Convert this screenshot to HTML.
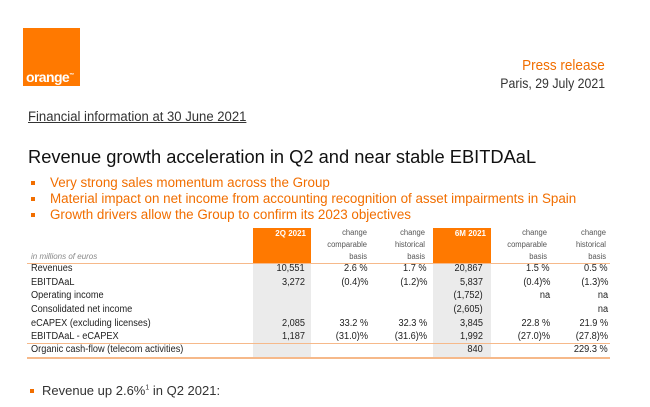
<!DOCTYPE html>
<html><head><meta charset="utf-8"><style>
body{margin:0;width:650px;height:407px;background:#fff;overflow:hidden;font-family:"Liberation Sans",sans-serif;position:relative}
.a{position:absolute;white-space:nowrap}
.o{color:#f16e00}
.b{position:absolute;width:4px;height:4px;background:#f16e00}
.r{position:absolute;font-size:10px;line-height:12px;color:#222;white-space:nowrap;transform:scaleX(0.92);transform-origin:right}
.l{transform-origin:left}
.h{position:absolute;font-size:8px;color:#555;text-align:right;line-height:12px;transform:scaleX(0.95);transform-origin:right}
</style></head><body>
<div class="a" style="left:23px;top:28px;width:57px;height:58px;background:#ff7900"></div>
<div class="a" style="left:26px;top:69px;font-size:14px;font-weight:bold;color:#fff;letter-spacing:-0.6px">orange<sup style="font-size:5px">™</sup></div>
<div class="a o" style="right:45px;top:57px;font-size:15px;transform:scaleX(0.9);transform-origin:right">Press release</div>
<div class="a" style="right:45px;top:75px;font-size:14px;color:#333;transform:scaleX(0.88);transform-origin:right">Paris, 29 July 2021</div>
<div class="a" style="left:28px;top:109px;font-size:13.5px;color:#333;text-decoration:underline;transform:scaleX(0.97);transform-origin:left">Financial information at 30 June 2021</div>
<div class="a" style="left:28px;top:146px;font-size:18.3px;color:#111">Revenue growth acceleration in Q2 and near stable EBITDAaL</div>
<div class="b" style="left:31px;top:181px"></div><div class="a o" style="left:50px;top:175px;font-size:13.4px">Very strong sales momentum across the Group</div>
<div class="b" style="left:31px;top:197px"></div><div class="a o" style="left:50px;top:191px;font-size:13.4px">Material impact on net income from accounting recognition of asset impairments in Spain</div>
<div class="b" style="left:31px;top:213px"></div><div class="a o" style="left:50px;top:207px;font-size:13.4px">Growth drivers allow the Group to confirm its 2023 objectives</div>

<div class="a" style="left:253px;top:228px;width:58px;height:35px;background:#ff7900"></div>
<div class="a" style="left:433px;top:228px;width:58px;height:35px;background:#ff7900"></div>
<div class="a" style="left:253px;top:264px;width:58px;height:93px;background:#ebebeb"></div>
<div class="a" style="left:433px;top:264px;width:58px;height:93px;background:#ebebeb"></div>
<div class="a" style="left:255px;top:229px;width:51px;text-align:right;font-size:8px;color:#fff;font-weight:bold">2Q 2021</div>
<div class="a" style="left:435px;top:229px;width:51px;text-align:right;font-size:8px;color:#fff;font-weight:bold">6M 2021</div>
<div class="h" style="left:310px;top:227px;width:57px">change<br>comparable<br>basis</div>
<div class="h" style="left:370px;top:227px;width:55px">change<br>historical<br>basis</div>
<div class="h" style="left:490px;top:227px;width:57px">change<br>comparable<br>basis</div>
<div class="h" style="left:550px;top:227px;width:56px">change<br>historical<br>basis</div>
<div class="a" style="left:31px;top:252px;font-size:8px;color:#888;font-style:italic">in millions of euros</div>
<div class="a" style="left:27px;top:263px;width:583px;height:1px;background:#f6b98a"></div>
<div class="a" style="left:27px;top:343px;width:583px;height:1px;background:#f6b98a"></div>
<div class="a" style="left:27px;top:357px;width:583px;height:2px;background:#f6b98a"></div>

<div class="r l" style="left:31px;top:263px">Revenues</div>
<div class="r l" style="left:31px;top:277px">EBITDAaL</div>
<div class="r l" style="left:31px;top:290px">Operating income</div>
<div class="r l" style="left:31px;top:304px">Consolidated net income</div>
<div class="r l" style="left:31px;top:318px">eCAPEX (excluding licenses)</div>
<div class="r l" style="left:31px;top:331px">EBITDAaL - eCAPEX</div>
<div class="r l" style="left:31px;top:344px">Organic cash-flow (telecom activities)</div>

<div class="r" style="right:345px;top:263px">10,551</div>
<div class="r" style="right:282px;top:263px">2.6 %</div>
<div class="r" style="right:223px;top:263px">1.7 %</div>
<div class="r" style="right:167px;top:263px">20,867</div>
<div class="r" style="right:100px;top:263px">1.5 %</div>
<div class="r" style="right:42px;top:263px">0.5 %</div>

<div class="r" style="right:345px;top:277px">3,272</div>
<div class="r" style="right:282px;top:277px">(0.4)%</div>
<div class="r" style="right:223px;top:277px">(1.2)%</div>
<div class="r" style="right:167px;top:277px">5,837</div>
<div class="r" style="right:100px;top:277px">(0.4)%</div>
<div class="r" style="right:42px;top:277px">(1.3)%</div>

<div class="r" style="right:167px;top:290px">(1,752)</div>
<div class="r" style="right:100px;top:290px">na</div>
<div class="r" style="right:42px;top:290px">na</div>

<div class="r" style="right:167px;top:304px">(2,605)</div>
<div class="r" style="right:42px;top:304px">na</div>

<div class="r" style="right:345px;top:318px">2,085</div>
<div class="r" style="right:282px;top:318px">33.2 %</div>
<div class="r" style="right:223px;top:318px">32.3 %</div>
<div class="r" style="right:167px;top:318px">3,845</div>
<div class="r" style="right:100px;top:318px">22.8 %</div>
<div class="r" style="right:42px;top:318px">21.9 %</div>

<div class="r" style="right:345px;top:331px">1,187</div>
<div class="r" style="right:282px;top:331px">(31.0)%</div>
<div class="r" style="right:223px;top:331px">(31.6)%</div>
<div class="r" style="right:167px;top:331px">1,992</div>
<div class="r" style="right:100px;top:331px">(27.0)%</div>
<div class="r" style="right:42px;top:331px">(27.8)%</div>

<div class="r" style="right:167px;top:344px">840</div>
<div class="r" style="right:42px;top:344px">229.3 %</div>

<div class="b" style="left:30px;top:389px"></div>
<div class="a" style="left:42px;top:383px;font-size:13px;color:#333">Revenue up 2.6%<sup style="font-size:7px">1</sup> in Q2 2021:</div>
</body></html>
